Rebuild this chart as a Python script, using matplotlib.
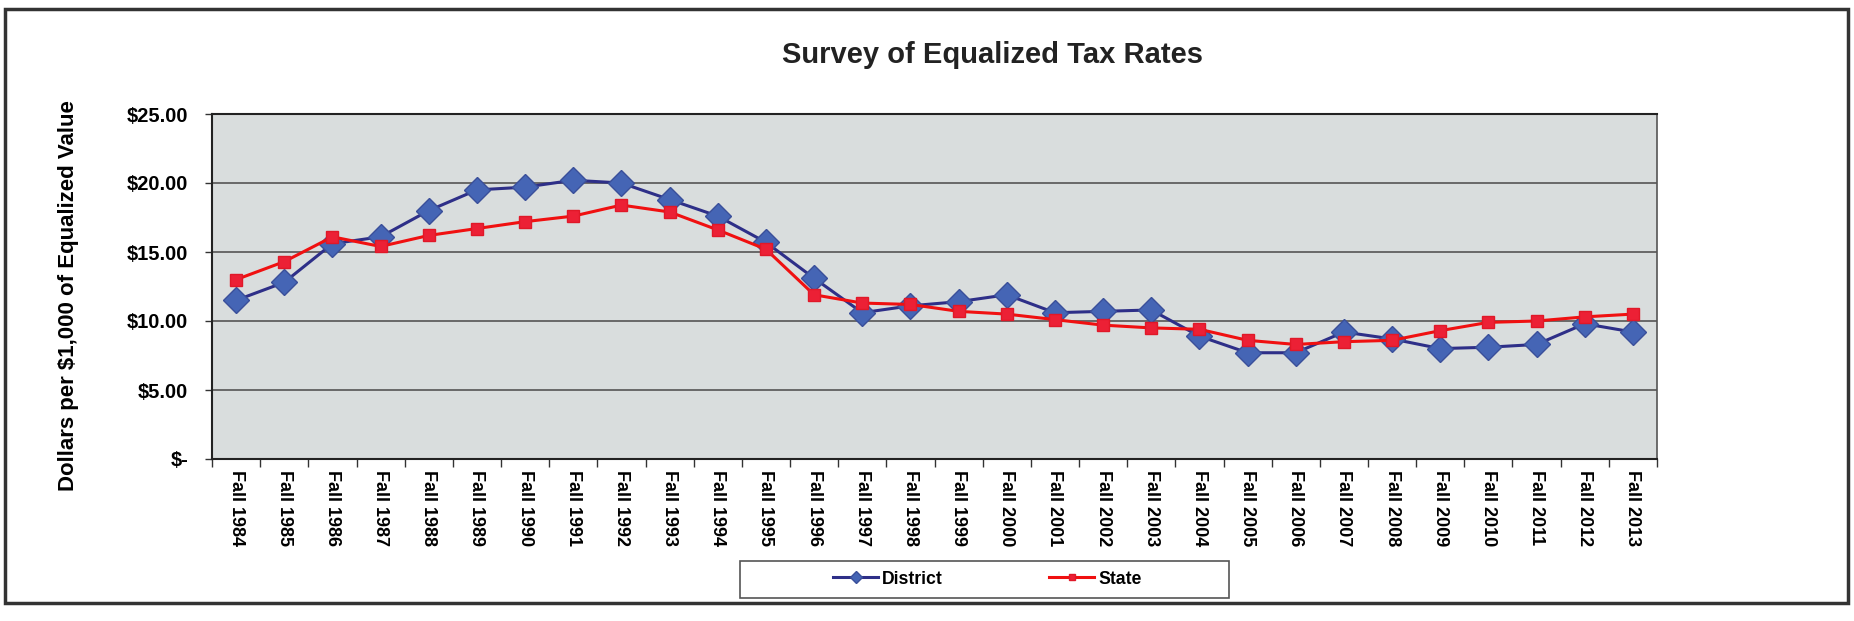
import matplotlib
matplotlib.use("Agg")
import matplotlib.pyplot as plt
from matplotlib.patches import Rectangle
from matplotlib.ticker import FuncFormatter

plt.rcParams['font.family'] = ['Liberation Sans', 'DejaVu Sans']

years = list(range(1984, 2014))
labels = [f"Fall {y}" for y in years]

district = [11.5, 12.8, 15.6, 16.1, 18.0, 19.5, 19.7, 20.2, 20.0, 18.8,
            17.6, 15.7, 13.1, 10.6, 11.1, 11.4, 11.9, 10.6, 10.7, 10.8,
            8.9, 7.7, 7.7, 9.2, 8.7, 8.0, 8.1, 8.3, 9.8, 9.2]
state = [13.0, 14.3, 16.1, 15.4, 16.2, 16.7, 17.2, 17.6, 18.4, 17.9,
         16.6, 15.2, 11.9, 11.3, 11.2, 10.7, 10.5, 10.1, 9.7, 9.5,
         9.4, 8.6, 8.3, 8.5, 8.6, 9.3, 9.9, 10.0, 10.3, 10.5]

W, H = 1854, 621
fig = plt.figure(figsize=(W / 100, H / 100), dpi=100)
fig.patch.set_facecolor("white")
ax = fig.add_axes([212 / W, 1 - 459 / H, (1657 - 212) / W, (459 - 114) / H])
ax.set_facecolor("#d9dddd")

x = list(range(len(years)))
ax.plot(x, district, color="#2e2f88", lw=2.2, marker="D", markersize=13,
        markerfacecolor="#4565b5", markeredgecolor="#3a4f9a", markeredgewidth=1,
        label="District", zorder=3)
ax.plot(x, state, color="#f01010", lw=2.2, marker="s", markersize=9,
        markerfacecolor="#ec2035", markeredgecolor="#e01828", markeredgewidth=1,
        label="State", zorder=4)

ax.set_xlim(-0.5, len(years) - 0.5)
ax.set_ylim(0, 25)
ax.set_yticks([0, 5, 10, 15, 20, 25])
ax.yaxis.set_major_formatter(FuncFormatter(lambda v, p: "$-" if v == 0 else f"${v:.2f}"))
ax.grid(axis="y", color="#555555", lw=1.2)
ax.set_axisbelow(True)

# ticks between categories, labels at the categories
ax.set_xticks([i - 0.5 for i in range(len(years) + 1)])
ax.set_xticklabels([])
ax.set_xticks(x, minor=True)
ax.set_xticklabels(labels, minor=True, rotation=270, fontsize=13, fontweight="bold")
ax.tick_params(axis="x", which="minor", length=0, pad=8)
ax.tick_params(axis="x", which="major", length=6, width=1, color="#333333")
ax.tick_params(axis="y", length=5, width=1, color="#333333", labelsize=14.5, pad=12)
for t in ax.get_yticklabels():
    t.set_fontweight("bold")

for s in ["left", "bottom", "top"]:
    ax.spines[s].set_color("#222222")
    ax.spines[s].set_linewidth(1.5)
ax.spines["right"].set_color("#555555")
ax.spines["right"].set_linewidth(1.2)

fig.text(69 / W, 1 - 296 / H, "Dollars per $1,000 of Equalized Value", rotation=90,
         ha="center", va="center", fontsize=16, fontweight="bold")

fig.text(992 / W, 1 - 63 / H, "Survey of Equalized Tax Rates", ha="center", va="baseline",
         fontsize=21, fontweight="bold", color="#222222")

leg = fig.legend(loc="center", bbox_to_anchor=(987 / W, 1 - 579 / H), ncol=2, frameon=False,
                 fontsize=12.7, handlelength=2.6, handletextpad=0.2, columnspacing=6,
                 markerscale=0.45)
for t in leg.get_texts():
    t.set_fontweight("bold")
fig.patches.append(Rectangle((740 / W, 1 - 598 / H), 489 / W, 37 / H, transform=fig.transFigure,
                             fill=False, edgecolor="#555555", lw=1.2))

# outer frame
fig.patches.append(Rectangle((5 / W, 1 - 603 / H), 1843 / W, 594 / H, transform=fig.transFigure,
                             fill=False, edgecolor="#333333", lw=2.5))

fig.savefig("out.png", dpi=100)
